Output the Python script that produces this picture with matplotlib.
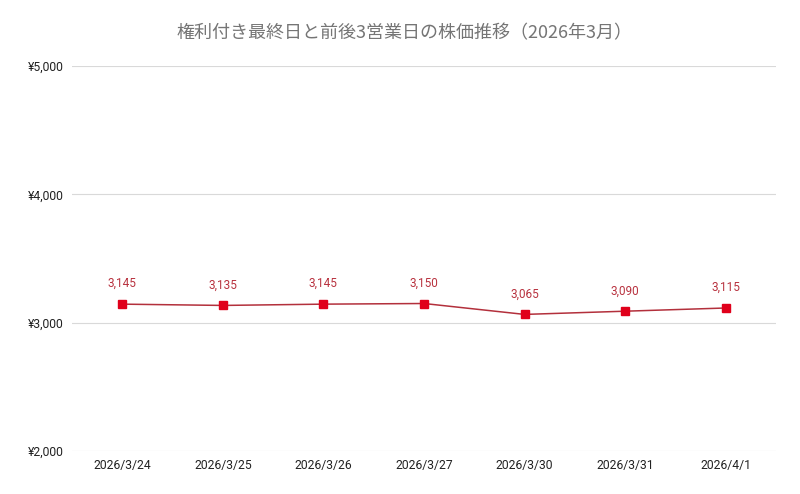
import matplotlib
matplotlib.use("Agg")
import matplotlib.pyplot as plt
from matplotlib.ticker import FuncFormatter

plt.rcParams['font.family'] = ['Roboto', 'Noto Sans CJK JP', 'DejaVu Sans']

dates = ["2026/3/24", "2026/3/25", "2026/3/26", "2026/3/27", "2026/3/30", "2026/3/31", "2026/4/1"]
prices = [3145, 3135, 3145, 3150, 3065, 3090, 3115]
yticks = [2000, 3000, 4000, 5000]

fig = plt.figure(figsize=(8, 4.94), dpi=100)
ax = fig.add_axes([0.09, 0.087, 0.88, 0.779])
x = list(range(len(dates)))
ax.plot(x, prices, color="#b3303c", lw=1.1, marker="s", ms=6,
        mfc="#e0001b", mec="#e0001b", zorder=3)
for xi, p in zip(x, prices):
    ax.annotate(f"{p:,}", (xi, p), xytext=(0, 10), textcoords="offset points",
                ha="center", va="bottom", fontsize=8.5, color="#b8323f")

ax.set_xlim(-0.5, len(dates) - 0.5)
ax.set_ylim(2000, 5000)
ax.set_yticks(yticks)
ax.yaxis.set_major_formatter(FuncFormatter(lambda v, _: f"¥{int(v):,}"))
ax.set_xticks(x)
ax.set_xticklabels(dates)
ax.tick_params(axis="both", length=0, labelsize=8.7, colors="#222222")
ax.tick_params(axis="y", pad=6)
ax.tick_params(axis="x", pad=6)
ax.grid(axis="y", color="#d9d9d9", lw=0.8)
ax.set_axisbelow(True)
for s in ax.spines.values():
    s.set_visible(False)

fig.text(0.506, 0.933, "権利付き最終日と前後3営業日の株価推移（2026年3月）",
         ha="center", va="center", fontsize=13, color="#757575",
         family=['Noto Sans CJK JP', 'DejaVu Sans'])
fig.savefig("out.png", dpi=100, facecolor="white")
